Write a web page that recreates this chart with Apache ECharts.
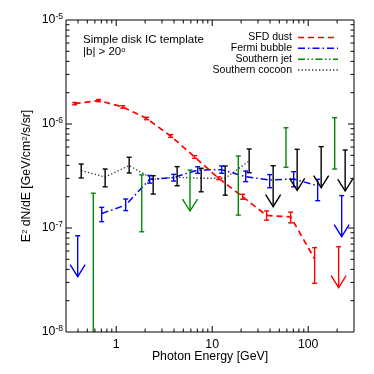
<!DOCTYPE html>
<html><head><meta charset="utf-8">
<script src="https://cdn.jsdelivr.net/npm/echarts@6/dist/echarts.min.js"></script>
<style>html,body{margin:0;padding:0;background:#fff}#c{width:374px;height:374px}</style>
</head><body><div id="c"></div>
<script>
// ---------- data ----------
const sfdE   = [0.369, 0.656, 1.167, 2.075, 3.69, 6.56, 11.67, 20.75, 36.9, 65.6, 116.7];
const sfdVal = [1.57e-6, 1.68e-6, 1.46e-6, 1.13e-6, 7.67e-7, 4.82e-7, 3.01e-7, 2.00e-7, 1.32e-7, 1.28e-7, 5.04e-8];
const sfdLo  = [1.53e-6, 1.64e-6, 1.42e-6, 1.10e-6, 7.45e-7, 4.68e-7, 2.92e-7, 1.89e-7, 1.19e-7, 1.12e-7, 2.94e-8];
const sfdHi  = [1.61e-6, 1.72e-6, 1.50e-6, 1.16e-6, 7.90e-7, 4.96e-7, 3.10e-7, 2.11e-7, 1.46e-7, 1.42e-7, 6.47e-8];
const sfdUlE = [207.5];
const sfdUl  = [6.61e-8];

const bubbleE   = [0.706, 1.255, 2.232, 3.97, 7.06, 12.55, 22.32, 39.7, 70.6, 125.5];
const bubbleVal = [1.38e-7, 1.66e-7, 2.94e-7, 3.06e-7, 3.61e-7, 3.64e-7, 3.11e-7, 2.90e-7, 2.96e-7, 2.54e-7];
const bubbleLo  = [1.15e-7, 1.47e-7, 2.70e-7, 2.83e-7, 3.36e-7, 3.36e-7, 2.79e-7, 2.44e-7, 2.49e-7, 1.83e-7];
const bubbleHi  = [1.58e-7, 1.90e-7, 3.20e-7, 3.28e-7, 3.88e-7, 3.95e-7, 3.53e-7, 3.26e-7, 3.48e-7, 2.94e-7];
const bubbleUlE = [0.397, 223.2];
const bubbleUl  = [8.43e-8, 2.05e-7];

const jetE  = [0.577, 1.845, 18.7, 58.7, 188.8];
const jetLo = [5e-9, 9.2e-8, 1.33e-7, 3.84e-7, 3.69e-7];
const jetHi = [2.16e-7, 3.24e-7, 4.92e-7, 9.2e-7, 1.15e-6];
const jetUlE = [5.87];
const jetUl  = [3.61e-7];

const cocoonE   = [0.432, 0.767, 1.365, 2.427, 4.315, 7.674, 13.65, 24.27];
const cocoonVal = [3.57e-7, 3.09e-7, 3.99e-7, 2.95e-7, 3.07e-7, 3.01e-7, 3.01e-7, 4.41e-7];
const cocoonLo  = [3.03e-7, 2.49e-7, 3.38e-7, 2.12e-7, 2.55e-7, 2.23e-7, 2.07e-7, 3.40e-7];
const cocoonHi  = [4.12e-7, 3.69e-7, 4.79e-7, 3.18e-7, 3.89e-7, 3.75e-7, 3.94e-7, 5.75e-7];
const cocoonUlE = [43.15, 76.74, 136.5, 242.7];
const cocoonUl  = [3.97e-7, 5.71e-7, 6.06e-7, 5.62e-7];

// ---------- axes / ticks ----------
const X_MIN = 0.3, X_MAX = 300, Y_MIN = 1e-8, Y_MAX = 1e-5;
const xMajorTicks = [1, 10, 100];
const xMinorTicks = [0.4,0.5,0.6,0.7,0.8,0.9, 2,3,4,5,6,7,8,9, 20,30,40,50,60,70,80,90, 200];
const yMajorTicks = [1e-7, 1e-6];
const yMinorTicks = [2e-8,3e-8,4e-8,5e-8,6e-8,7e-8,8e-8,9e-8, 2e-7,3e-7,4e-7,5e-7,6e-7,7e-7,8e-7,9e-7, 2e-6,3e-6,4e-6,5e-6,6e-6,7e-6,8e-6,9e-6];
const xTickDecades = [0, 1, 2];
const xTickLabels  = ['1', '10', '100'];
const yTickDecades = [-8, -7, -6, -5];
const yTickLabels  = ['-8', '-7', '-6', '-5'];

const legendNames = ['SFD dust', 'Fermi bubble', 'Southern jet', 'Southern cocoon'];

const FONT = '"Liberation Sans", Arial, Helvetica, sans-serif';
const RED = '#ff0000', BLUE = '#0000ff', GREEN = '#008a00', BLACK = '#000000';
const DASH = { red: [6, 4], blue: [7, 3, 1.5, 3], green: [7, 2.5, 1.5, 2.5, 1.5, 2.5], black: [1.3, 2.2] };

function errBar(color, lw) {
  return function (params, api) {
    const x = api.value(0), lo = api.value(1), hi = api.value(2);
    const top = api.coord([x, hi]), bot = api.coord([x, lo]);
    const yb = api.coord([x, Y_MIN])[1], yt = api.coord([x, Y_MAX])[1];
    const cw = 2.5;
    const y1 = Math.max(top[1], yt), y2 = Math.min(bot[1], yb);
    const ch = [{ type: 'line', shape: { x1: top[0], y1: y1, x2: top[0], y2: y2 }, style: { stroke: color, lineWidth: lw } }];
    if (top[1] >= yt) ch.push({ type: 'line', shape: { x1: top[0] - cw, y1: top[1], x2: top[0] + cw, y2: top[1] }, style: { stroke: color, lineWidth: lw } });
    if (bot[1] <= yb) ch.push({ type: 'line', shape: { x1: bot[0] - cw, y1: bot[1], x2: bot[0] + cw, y2: bot[1] }, style: { stroke: color, lineWidth: lw } });
    return { type: 'group', children: ch };
  };
}
function ulArrow(color, lw) {
  return function (params, api) {
    const p = api.coord([api.value(0), api.value(1)]);
    const len = 41, hw = 7.5, hh = 12, cw = 2.5;
    const tipY = p[1] + len;
    return { type: 'group', children: [
      { type: 'line', shape: { x1: p[0] - cw, y1: p[1], x2: p[0] + cw, y2: p[1] }, style: { stroke: color, lineWidth: lw } },
      { type: 'line', shape: { x1: p[0], y1: p[1], x2: p[0], y2: tipY }, style: { stroke: color, lineWidth: lw } },
      { type: 'polyline', shape: { points: [[p[0] - hw, tipY - hh], [p[0], tipY], [p[0] + hw, tipY - hh]] }, style: { stroke: color, lineWidth: lw, fill: null } }
    ] };
  };
}
function xTickRender(params, api) {
  const v = api.value(0), major = api.value(2) === 1;
  const L = major ? 6 : 3.5;
  const b = api.coord([v, Y_MIN]), t = api.coord([v, Y_MAX]);
  const st = { stroke: '#000', lineWidth: 1 };
  return { type: 'group', children: [
    { type: 'line', shape: { x1: b[0], y1: b[1], x2: b[0], y2: b[1] - L }, style: st },
    { type: 'line', shape: { x1: t[0], y1: t[1], x2: t[0], y2: t[1] + L }, style: { stroke: '#000', lineWidth: 1 } }
  ] };
}
function yTickRender(params, api) {
  const v = api.value(1), major = api.value(2) === 1;
  const L = major ? 6 : 3.5;
  const l = api.coord([X_MIN, v]), r = api.coord([X_MAX, v]);
  return { type: 'group', children: [
    { type: 'line', shape: { x1: l[0], y1: l[1], x2: l[0] + L, y2: l[1] }, style: { stroke: '#000', lineWidth: 1 } },
    { type: 'line', shape: { x1: r[0], y1: r[1], x2: r[0] - L, y2: r[1] }, style: { stroke: '#000', lineWidth: 1 } }
  ] };
}

const zip2 = (a, b) => a.map((x, i) => [x, b[i]]);
const zip3 = (a, b, c) => a.map((x, i) => [x, b[i], c[i]]);

const series = [
  { type: 'custom', silent: true, renderItem: xTickRender, encode: { x: 0, y: 1 },
    data: xMajorTicks.map(v => [v, Y_MIN, 1]).concat(xMinorTicks.map(v => [v, Y_MIN, 0])), z: 1 },
  { type: 'custom', silent: true, renderItem: yTickRender, encode: { x: 0, y: 1 },
    data: yMajorTicks.map(v => [X_MIN, v, 1]).concat(yMinorTicks.map(v => [X_MIN, v, 0])), z: 1 },

  { type: 'line', silent: true, symbol: 'none', data: zip2(cocoonE, cocoonVal), lineStyle: { color: '#333', width: 1.3, type: DASH.black }, z: 2 },
  { type: 'line', silent: true, symbol: 'none', data: zip2(bubbleE, bubbleVal), lineStyle: { color: BLUE, width: 1.5, type: DASH.blue }, z: 2 },
  { type: 'line', silent: true, symbol: 'none', data: zip2(sfdE, sfdVal), lineStyle: { color: RED, width: 1.7, type: DASH.red }, z: 2 },

  { type: 'custom', silent: true, renderItem: errBar(BLACK, 1.4), encode: { x: 0, y: [1, 2] }, data: zip3(cocoonE, cocoonLo, cocoonHi), z: 3 },
  { type: 'custom', silent: true, renderItem: errBar(BLUE, 1.4), encode: { x: 0, y: [1, 2] }, data: zip3(bubbleE, bubbleLo, bubbleHi), z: 3 },
  { type: 'custom', silent: true, renderItem: errBar(RED, 1.4), encode: { x: 0, y: [1, 2] }, data: zip3(sfdE, sfdLo, sfdHi), z: 3 },
  { type: 'custom', silent: true, renderItem: errBar(GREEN, 1.4), encode: { x: 0, y: [1, 2] }, data: zip3(jetE, jetLo, jetHi), z: 3 },

  { type: 'custom', silent: true, renderItem: ulArrow(BLACK, 1.4), encode: { x: 0, y: 1 }, data: zip2(cocoonUlE, cocoonUl), z: 4 },
  { type: 'custom', silent: true, renderItem: ulArrow(BLUE, 1.4), encode: { x: 0, y: 1 }, data: zip2(bubbleUlE, bubbleUl), z: 4 },
  { type: 'custom', silent: true, renderItem: ulArrow(RED, 1.4), encode: { x: 0, y: 1 }, data: zip2(sfdUlE, sfdUl), z: 4 },
  { type: 'custom', silent: true, renderItem: ulArrow(GREEN, 1.4), encode: { x: 0, y: 1 }, data: zip2(jetUlE, jetUl), z: 4 }
];

// legend (drawn as graphics)
const legColors = [RED, BLUE, GREEN, '#333'];
const legDash = [DASH.red, DASH.blue, DASH.green, DASH.black];
const legY0 = 37.4, legDy = 10.9;
const graphics = [];
legendNames.forEach((n, i) => {
  const y = legY0 + i * legDy;
  graphics.push({ type: 'text', x: 292, y: y, style: { text: n, fill: '#000', font: '10.5px ' + FONT, align: 'right', verticalAlign: 'middle' }, z: 10 });
  graphics.push({ type: 'line', shape: { x1: 298, y1: y, x2: 338, y2: y }, style: { stroke: legColors[i], lineWidth: 1.5, lineDash: legDash[i] }, z: 10 });
});
graphics.push({ type: 'text', x: 83, y: 40, style: { text: 'Simple disk IC template', fill: '#000', font: '11.5px ' + FONT, verticalAlign: 'middle' }, z: 10 });
graphics.push({ type: 'text', x: 83, y: 52, style: { text: '|b| > 20{s|o}', fill: '#000', font: '11.5px ' + FONT, verticalAlign: 'middle',
  rich: { s: { fontSize: 7.5, fontFamily: FONT, verticalAlign: 'top', fill: '#000' } } }, z: 10 });
graphics.push({ type: 'text', x: 210, y: 357, style: { text: 'Photon Energy [GeV]', fill: '#000', font: '12.3px ' + FONT, align: 'center', verticalAlign: 'middle' }, z: 10 });
graphics.push({ type: 'text', x: 27, y: 176, rotation: Math.PI / 2,
  style: { text: 'E{s|2} dN/dE [GeV/cm{s|2}/s/sr]', fill: '#000', font: '12.3px ' + FONT, align: 'center', verticalAlign: 'middle',
    rich: { s: { fontSize: 8, fontFamily: FONT, verticalAlign: 'top', fill: '#000' } } }, z: 10 });

const chart = echarts.init(document.getElementById('c'), null, { renderer: 'canvas' });
chart.setOption({
  animation: false,
  backgroundColor: '#fff',
  grid: { left: 66, right: 20, top: 20, bottom: 42, show: true, borderColor: '#000', borderWidth: 1, backgroundColor: 'transparent', containLabel: false, outerBoundsMode: 'none' },
  xAxis: { type: 'log', logBase: 10, min: X_MIN, max: X_MAX,
    axisLine: { show: false }, axisTick: { show: false }, splitLine: { show: false }, minorTick: { show: false }, minorSplitLine: { show: false },
    axisLabel: { margin: 7, color: '#000', fontSize: 12.3, fontFamily: FONT, showMinLabel: false, showMaxLabel: false,
      formatter: v => { const e = Math.round(Math.log10(v)); const i = xTickDecades.indexOf(e); return (i >= 0 && Math.abs(Math.log10(v) - e) < 1e-6) ? xTickLabels[i] : ''; } } },
  yAxis: { type: 'log', logBase: 10, min: Y_MIN, max: Y_MAX,
    axisLine: { show: false }, axisTick: { show: false }, splitLine: { show: false }, minorTick: { show: false }, minorSplitLine: { show: false },
    axisLabel: { margin: 3, color: '#000', fontFamily: FONT,
      formatter: v => { const e = Math.round(Math.log10(v)); const i = yTickDecades.indexOf(e); return i >= 0 ? '{b|10}{s|' + yTickLabels[i] + '}' : ''; },
      rich: { b: { fontSize: 12.3, fontFamily: FONT, color: '#000', lineHeight: 16 }, s: { fontSize: 8.5, fontFamily: FONT, color: '#000', verticalAlign: 'top' } } } },
  graphic: graphics,
  series: series
});
</script>
</body></html>
